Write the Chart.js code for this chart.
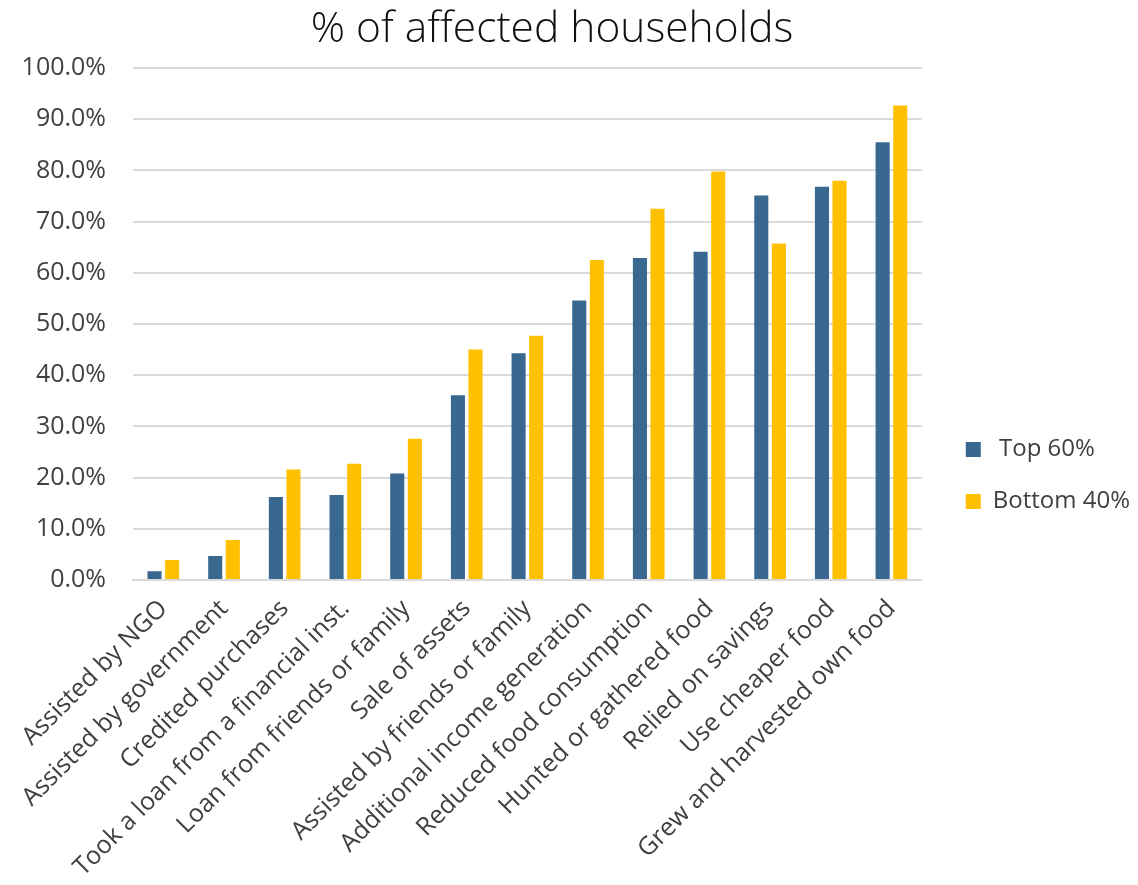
<!DOCTYPE html>
<html>
<head>
<meta charset="utf-8">
<title>% of affected households</title>
<script src="https://cdn.jsdelivr.net/npm/chart.js@4/dist/chart.umd.min.js"></script>
<style>
  html, body { margin: 0; padding: 0; background: #fff; }
  #wrap { width: 1138px; height: 885px; }
</style>
</head>
<body>
<div id="wrap"><canvas id="coping-chart" width="1138" height="885"></canvas></div>
<script>
// coping strategies, sorted by share of top 60%
const strategies = [
    'Assisted by NGO',
    'Assisted by government',
    'Credited purchases',
    'Took a loan from a financial inst.',
    'Loan from friends or family',
    'Sale of assets',
    'Assisted by friends or family',
    'Additional income generation',
    'Reduced food consumption',
    'Hunted or gathered food',
    'Relied on savings',
    'Use cheaper food',
    'Grew and harvested own food'
];
const top60 = [1.7, 4.7, 16.2, 16.6, 20.8, 36.1, 44.3, 54.6, 62.9, 64.1, 75.1, 76.8, 85.5];
const bottom40 = [3.9, 7.8, 21.6, 22.7, 27.6, 45.0, 47.7, 62.5, 72.5, 79.8, 65.7, 78.0, 92.7];

const FONT = "'Open Sans', 'Noto Sans', sans-serif";
const TEXT = '#404040';
const GRID = '#d9d9d9';

// nudges the legend away from the plot and the title a bit to the left
const boxNudge = {
    id: 'boxNudge',
    afterLayout(chart) {
        const lg = chart.legend;
        if (lg) { lg.left += 16; lg.right += 16; }
        const tb = chart.titleBlock;
        if (tb) { tb.left -= 20; }
    }
};

const ctx = document.getElementById('coping-chart');

new Chart(ctx, {
    type: 'bar',
    data: {
        labels: strategies,
        datasets: [
            {
                label: ' Top 60%',
                data: top60,
                backgroundColor: '#386890',
                categoryPercentage: 0.58,
                barPercentage: 0.8
            },
            {
                label: 'Bottom 40%',
                data: bottom40,
                backgroundColor: '#ffc000',
                categoryPercentage: 0.58,
                barPercentage: 0.8
            }
        ]
    },
    plugins: [boxNudge],
    options: {
        responsive: false,
        animation: false,
        devicePixelRatio: 1,
        layout: { padding: { left: 0, right: 14, top: 0, bottom: 0 } },
        scales: {
            x: {
                grid: { display: false, drawTicks: false },
                border: { color: GRID, width: 2 },
                ticks: {
                    color: TEXT,
                    font: { family: FONT, size: 25 },
                    minRotation: 45,
                    maxRotation: 45,
                    autoSkip: false,
                    padding: 14
                },
                afterFit: (scale) => { scale.height = 305; }
            },
            y: {
                min: 0,
                max: 100,
                grid: { color: GRID, lineWidth: 2, drawTicks: false },
                border: { display: false },
                ticks: {
                    stepSize: 10,
                    color: TEXT,
                    font: { family: FONT, size: 25 },
                    padding: 27,
                    callback: (value) => value.toFixed(1) + '%'
                },
                afterFit: (scale) => { scale.width = 133; }
            }
        },
        plugins: {
            title: {
                display: true,
                text: '% of affected households',
                color: '#111',
                font: { family: FONT, size: 42.5, weight: 300, lineHeight: 1.2 },
                padding: { top: 4, bottom: 13 }
            },
            legend: {
                position: 'right',
                title: {
                    display: true,
                    text: ' ',
                    font: { size: 10, lineHeight: 1 },
                    padding: { top: 28, bottom: 28 }
                },
                labels: {
                    color: TEXT,
                    font: { family: FONT, size: 24 },
                    boxWidth: 15,
                    boxHeight: 15,
                    padding: 28
                }
            },
            tooltip: {
                callbacks: {
                    label: (context) => `${context.dataset.label.trim()}: ${context.parsed.y.toFixed(1)}%`
                }
            }
        }
    }
});
</script>
</body>
</html>
